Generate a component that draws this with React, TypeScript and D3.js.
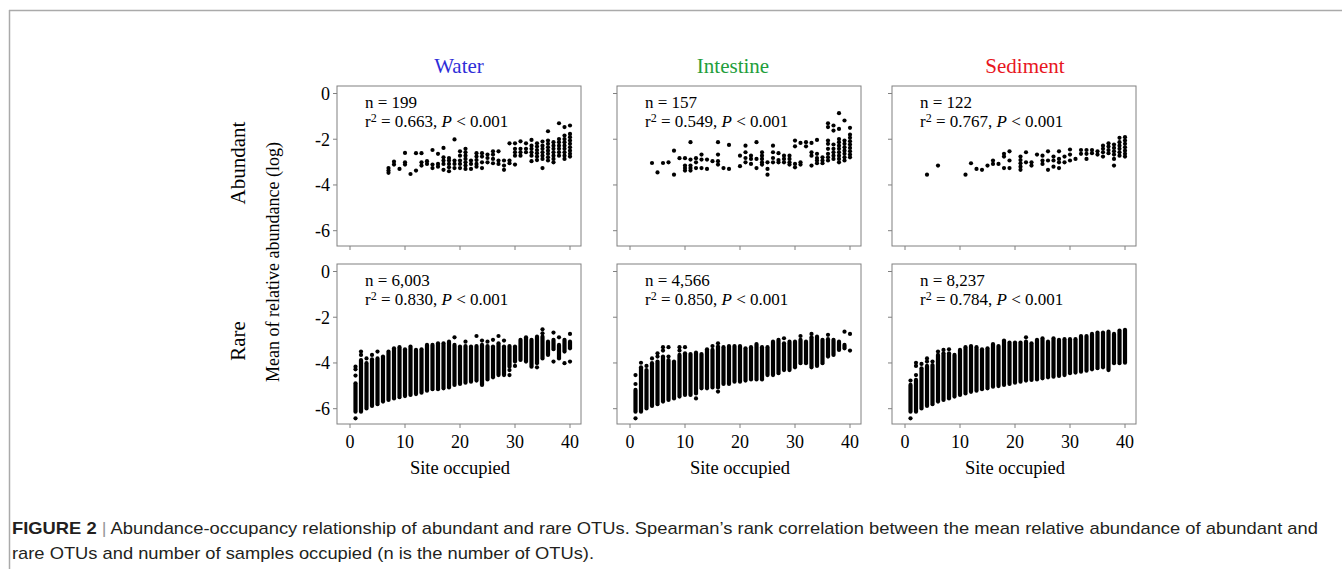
import * as d3 from 'd3'

const habitats = ['Water', 'Intestine', 'Sediment']
const habitatColors = ['#2e2ed8', '#1f9e3c', '#e8161e']
const groups = ['Abundant', 'Rare']
const xTicks = [0, 10, 20, 30, 40]
const yTicks = [0, -2, -4, -6]

const abundantN = ['199', '157', '122']
const abundantR2 = ['0.663', '0.549', '0.767']
const rareN = ['6,003', '4,566', '8,237']
const rareR2 = ['0.830', '0.850', '0.784']

// abundant OTUs: [sites occupied, mean relative abundance (log) of each OTU]
const waterAbundant: [number, number[]][] = [
  [7, [-3.26, -3.37, -3.47]],
  [8, [-2.98, -3.11]],
  [9, [-3.3]],
  [10, [-2.6, -3.01, -3.11]],
  [11, [-3.52]],
  [12, [-2.61, -3.37]],
  [13, [-2.61, -3.01, -3.15]],
  [14, [-2.96, -3.08]],
  [15, [-2.47, -3.11, -3.26]],
  [16, [-2.64, -3.08, -3.2]],
  [17, [-2.38, -2.79, -2.93, -3.08, -3.34]],
  [18, [-2.82, -2.93, -3.08, -3.23, -3.4]],
  [19, [-2.01, -2.93, -3.08, -3.26]],
  [20, [-2.53, -2.72, -2.93, -3.08, -3.26]],
  [21, [-2.42, -2.57, -2.72, -2.86, -3.01, -3.15, -3.3]],
  [22, [-2.93, -3.08, -3.3]],
  [23, [-2.61, -2.76, -2.91, -3.08, -3.2]],
  [24, [-2.61, -2.76, -3.01, -3.26]],
  [25, [-2.67, -2.82, -3.01]],
  [26, [-2.53, -2.67, -2.86, -3.05]],
  [27, [-2.53, -2.93, -3.08]],
  [28, [-2.93, -3.15, -3.34]],
  [29, [-2.18, -2.93, -3.05]],
  [30, [-2.18, -2.42, -2.57, -2.72, -3.11]],
  [31, [-2.09, -2.42, -2.57, -2.72]],
  [32, [-2.18, -2.42, -2.57]],
  [33, [-2.03, -2.28, -2.42, -2.57, -2.72, -2.96]],
  [34, [-2.18, -2.32, -2.47, -2.61, -2.76, -2.91]],
  [35, [-2.1, -2.28, -2.42, -2.57, -2.72, -2.86, -3.26]],
  [36, [-1.65, -2.06, -2.2, -2.35, -2.5, -2.64, -2.79, -2.93]],
  [37, [-2.13, -2.28, -2.42, -2.57, -2.72, -2.86, -3.01]],
  [38, [-1.3, -1.99, -2.13, -2.28, -2.42, -2.57, -2.72]],
  [39, [-1.47, -1.84, -1.99, -2.13, -2.28, -2.42, -2.57, -2.72, -2.86]],
  [40, [-1.4, -1.77, -1.91, -2.06, -2.2, -2.35, -2.5, -2.64, -2.76]],
]

const intestineAbundant: [number, number[]][] = [
  [4, [-3.04]],
  [5, [-3.45]],
  [6, [-3.04]],
  [7, [-3.01]],
  [8, [-2.5, -3.55]],
  [9, [-2.83]],
  [10, [-2.83, -3.15, -3.26, -3.37]],
  [11, [-2.13, -2.89, -3.15, -3.26, -3.37]],
  [12, [-2.83, -3.01, -3.26]],
  [13, [-2.67, -2.89, -3.26]],
  [14, [-2.89, -3.3]],
  [15, [-2.96]],
  [16, [-2.13, -2.67, -2.96, -3.11]],
  [17, [-3.26]],
  [18, [-2.25, -3.3]],
  [20, [-2.72, -3.18]],
  [21, [-2.28, -2.57, -2.82, -3.01]],
  [22, [-2.72, -2.86, -3.08]],
  [23, [-2.13, -2.86, -3.26]],
  [24, [-2.57, -2.72, -2.86, -3.01, -3.11]],
  [25, [-3.01, -3.3, -3.55]],
  [26, [-2.28, -2.57, -2.82, -3.01]],
  [27, [-2.61, -2.91, -3.01]],
  [28, [-2.72, -2.86, -3.01]],
  [29, [-2.72, -2.86, -3.01, -3.11]],
  [30, [-2.06, -2.31, -3.08, -3.23]],
  [31, [-2.16, -3.01, -3.11]],
  [32, [-2.13, -2.31]],
  [33, [-2.16, -2.57, -2.72, -3.15]],
  [34, [-2.03, -2.64, -2.82, -2.93, -3.05]],
  [35, [-2.79, -2.93, -3.05]],
  [36, [-1.3, -1.47, -2.06, -2.2, -2.42, -2.64, -2.79, -2.93]],
  [37, [-1.4, -1.62, -2.23, -2.42, -2.57, -2.72, -2.86]],
  [38, [-0.86, -1.55, -1.99, -2.13, -2.28, -2.42, -2.57, -2.72, -2.86, -3.01]],
  [39, [-1.18, -2.06, -2.2, -2.35, -2.5, -2.64, -2.79, -2.93]],
  [40, [-1.5, -1.8, -1.94, -2.09, -2.23, -2.38, -2.53, -2.67, -2.79]],
]

const sedimentAbundant: [number, number[]][] = [
  [4, [-3.55]],
  [6, [-3.15]],
  [11, [-3.55]],
  [12, [-3.05]],
  [13, [-3.3]],
  [14, [-3.34]],
  [15, [-3.15]],
  [16, [-2.93, -3.08]],
  [17, [-3.08]],
  [18, [-2.64, -2.76, -3.26]],
  [19, [-2.53, -2.93, -3.26]],
  [21, [-2.76, -2.91, -3.05, -3.2, -3.34]],
  [22, [-2.57, -3.01]],
  [23, [-3.01, -3.15]],
  [24, [-2.67]],
  [25, [-2.72, -2.93, -3.08]],
  [26, [-2.53, -2.93, -3.34]],
  [27, [-2.76, -2.93, -3.2]],
  [28, [-2.53, -2.86, -3.01, -3.26]],
  [29, [-2.76, -3.01]],
  [30, [-2.45, -2.67, -2.93]],
  [31, [-2.86]],
  [32, [-2.47, -2.64]],
  [33, [-2.47, -2.64, -2.86]],
  [34, [-2.47, -2.61]],
  [35, [-2.53, -2.67]],
  [36, [-2.28, -2.42, -2.57, -2.76]],
  [37, [-2.18, -2.32, -2.47, -2.61]],
  [38, [-2.23, -2.38, -2.53, -2.67, -2.86, -3.15]],
  [39, [-1.94, -2.13, -2.28, -2.42, -2.57, -2.72]],
  [40, [-1.91, -2.06, -2.2, -2.35, -2.5, -2.64, -2.76]],
]

// rare OTUs: dense range (top / bottom) of each site 1..40, plus scattered OTUs
const waterRareHi = [
  -4.89, -3.87, -4.01, -3.84, -3.8, -3.72, -3.5, -3.36, -3.31, -3.4, -3.28, -3.43, -3.4, -3.21, -3.21, -3.14, -3.14, -3.07, -3.21, -3.28,
  -3.26, -3.28, -3.26, -3.21, -3.26, -3.28, -3.14, -3.28, -3.26, -3.28, -2.99, -2.88, -2.99, -2.85, -2.85, -3.07, -2.99, -3.21, -2.99, -3.07,
]
const waterRareLo = [
  -6.13, -6.13, -5.99, -5.88, -5.8, -5.69, -5.62, -5.55, -5.5, -5.45, -5.4, -5.36, -5.3, -5.21, -5.15, -5.15, -5.11, -5.07, -4.96, -4.92,
  -4.86, -4.82, -4.77, -4.96, -4.72, -4.63, -4.53, -4.53, -4.16, -3.94, -3.87, -3.94, -4.16, -4.01, -3.8, -3.65, -3.4, -3.8, -3.5, -3.36,
]
const waterRareExtra: [number, number][] = [
  [1, -4.16], [1, -4.28], [1, -4.55], [1, -6.42], [2, -3.5], [2, -3.65], [3, -3.8], [4, -3.65], [5, -3.5],
  [19, -2.88], [21, -3.07], [23, -2.82], [24, -3.02], [25, -3.07], [26, -2.99], [27, -2.82], [28, -3.02],
  [29, -4.31], [29, -4.53], [30, -4.13], [34, -4.19], [35, -2.53], [35, -2.7], [37, -2.67], [37, -3.94],
  [38, -2.88], [39, -4.01], [40, -2.73], [40, -3.94],
]

const intestineRareHi = [
  -5.18, -4.19, -4.31, -4.01, -3.94, -3.72, -3.87, -3.94, -3.65, -3.58, -3.61, -3.55, -3.61, -3.4, -3.43, -3.28, -3.31, -3.26, -3.26, -3.26,
  -3.36, -3.31, -3.17, -3.31, -3.31, -3.07, -2.99, -3.14, -3.07, -3.07, -2.99, -3.07, -2.88, -2.85, -2.99, -2.96, -2.99, -3.07, -3.21, -3.46,
]
const intestineRareLo = [
  -6.13, -6.13, -5.99, -5.88, -5.8, -5.69, -5.62, -5.55, -5.47, -5.4, -5.4, -5.33, -5.11, -5.11, -5.07, -5.07, -4.92, -4.92, -4.82, -4.82,
  -4.77, -4.72, -4.72, -4.72, -4.53, -4.53, -4.45, -4.31, -4.31, -4.19, -4.01, -4.01, -4.19, -4.13, -4.01, -3.72, -3.65, -3.43, -3.36, -3.46,
]
const intestineRareExtra: [number, number][] = [
  [1, -4.53], [1, -4.92], [1, -6.42], [2, -3.99], [3, -4.13], [4, -3.8], [5, -3.58], [5, -3.72], [6, -3.31], [6, -3.46],
  [7, -3.31], [7, -3.72], [9, -3.31], [9, -3.46], [10, -3.31], [12, -5.55], [15, -3.26], [16, -3.14], [16, -5.25],
  [28, -2.92], [31, -2.82], [33, -2.73], [36, -2.77], [39, -2.63], [40, -2.73],
]

const sedimentRareHi = [
  -4.96, -4.74, -4.23, -4.13, -4.09, -3.65, -3.58, -3.58, -3.65, -3.43, -3.31, -3.26, -3.31, -3.4, -3.36, -3.17, -3.26, -3.02, -3.11, -3.11,
  -3.11, -3.07, -3.14, -2.99, -2.92, -3.07, -2.92, -2.99, -2.96, -2.96, -2.96, -2.82, -2.82, -2.73, -2.67, -2.67, -2.63, -2.73, -2.58, -2.55,
]
const sedimentRareLo = [
  -6.13, -6.13, -5.99, -5.88, -5.8, -5.69, -5.62, -5.55, -5.47, -5.4, -5.33, -5.26, -5.21, -5.15, -5.11, -5.04, -5.01, -4.96, -4.92, -4.86,
  -4.82, -4.77, -4.74, -4.72, -4.67, -4.63, -4.6, -4.57, -4.53, -4.45, -4.42, -4.38, -4.34, -4.28, -4.23, -4.19, -4.31, -4.01, -4.01, -3.99,
]
const sedimentRareExtra: [number, number][] = [
  [1, -4.77], [1, -6.42], [2, -3.99], [2, -4.13], [2, -4.53], [3, -4.04], [4, -3.8], [4, -3.94], [5, -3.94],
  [6, -3.5], [7, -3.43], [8, -3.4], [22, -2.88],
]

const abundantData = [waterAbundant, intestineAbundant, sedimentAbundant]
const rareHi = [waterRareHi, intestineRareHi, sedimentRareHi]
const rareLo = [waterRareLo, intestineRareLo, sedimentRareLo]
const rareExtra = [waterRareExtra, intestineRareExtra, sedimentRareExtra]

const W = 1342
const H = 569
const panelLeft = [337, 617, 892]
const titleX = [459, 733, 1025]
const rowTop = [86, 264]
const panelW = 244
const panelH = 160
const serif = "'Liberation Serif', 'Times New Roman', serif"
const sans = "'Liberation Sans', Arial, sans-serif"
const frameColor = '#808080'

type PanelProps = {
  col: number
  row: number
}

function Panel({ col, row }: PanelProps) {
  const left = panelLeft[col]
  const top = rowTop[row]
  const x = d3.scaleLinear().domain([0, 40]).range([left + 13, left + 233])
  const y = d3.scaleLinear().domain([0, -6]).range([top + 7.5, top + 144.7])
  const n = row === 0 ? abundantN[col] : rareN[col]
  const r2 = row === 0 ? abundantR2[col] : rareR2[col]

  return (
    <g>
      {row === 0 &&
        abundantData[col].flatMap(([site, vals]) =>
          vals.map((v, i) => <circle key={site + '-' + i} cx={x(site)} cy={y(v)} r={2.1} fill="#000" />)
        )}
      {row === 1 &&
        rareHi[col].map((hi, i) => (
          <rect
            key={'c' + i}
            x={x(i + 1) - 2.1}
            y={y(hi) - 2.1}
            width={4.2}
            height={y(rareLo[col][i]) - y(hi) + 4.2}
            rx={2.1}
            fill="#000"
          />
        ))}
      {row === 1 &&
        rareExtra[col].map(([site, v], i) => <circle key={'e' + i} cx={x(site)} cy={y(v)} r={2.1} fill="#000" />)}

      <rect x={left} y={top} width={panelW} height={panelH} fill="none" stroke={frameColor} strokeWidth={1} />
      {yTicks.map((t) => (
        <line key={'yt' + t} x1={left - 4} x2={left} y1={y(t)} y2={y(t)} stroke={frameColor} />
      ))}
      {xTicks.map((t) => (
        <line key={'xt' + t} x1={x(t)} x2={x(t)} y1={top + panelH} y2={top + panelH + 4} stroke={frameColor} />
      ))}
      {col === 0 &&
        yTicks.map((t) => (
          <text key={'yl' + t} x={left - 7} y={y(t)} dy="0.35em" textAnchor="end" fontSize={18} fontFamily={serif}>
            {t}
          </text>
        ))}
      {row === 1 &&
        xTicks.map((t) => (
          <text key={'xl' + t} x={x(t)} y={top + panelH + 24} textAnchor="middle" fontSize={18} fontFamily={serif}>
            {t}
          </text>
        ))}
      {row === 1 && (
        <text x={(x(0) + x(40)) / 2} y={474} textAnchor="middle" fontSize={18.5} fontFamily={serif}>
          Site occupied
        </text>
      )}

      <text x={left + 28} y={top + 22} fontSize={17} fontFamily={serif}>
        n = {n}
      </text>
      <text x={left + 28} y={top + 41} fontSize={17} fontFamily={serif}>
        r
        <tspan fontSize={12} dy={-5}>
          2
        </tspan>
        <tspan dy={5}> = {r2}, </tspan>
        <tspan fontStyle="italic">P</tspan>
        <tspan> &lt; 0.001</tspan>
      </text>
    </g>
  )
}

export default function App() {
  return (
    <svg width={W} height={H} style={{ position: 'absolute', left: 0, top: 0, background: '#fff' }}>
      <line x1={9} x2={W} y1={10.5} y2={10.5} stroke="#aaa" strokeWidth={1.5} />
      <line x1={9.5} x2={9.5} y1={10} y2={H} stroke="#aaa" strokeWidth={1.5} />

      {habitats.map((h, i) => (
        <text key={h} x={titleX[i]} y={73} textAnchor="middle" fontSize={21} fontFamily={serif} fill={habitatColors[i]}>
          {h}
        </text>
      ))}

      {groups.map((g, r) => (
        <text
          key={g}
          transform={`translate(245,${rowTop[r] + panelH / 2 - 3}) rotate(-90)`}
          textAnchor="middle"
          fontSize={21}
          fontFamily={serif}
        >
          {g}
        </text>
      ))}
      <text transform="translate(279,262) rotate(-90)" textAnchor="middle" fontSize={18} fontFamily={serif}>
        Mean of relative abundance (log)
      </text>

      {groups.map((g, r) => habitats.map((h, c) => <Panel key={g + h} col={c} row={r} />))}

      <text x={12} y={534} fontSize={17} fontFamily={sans} fill="#231f20" textLength={1306} lengthAdjust="spacingAndGlyphs">
        <tspan fontWeight="bold">FIGURE 2</tspan>
        <tspan fill="#999"> | </tspan>
        <tspan>
          Abundance-occupancy relationship of abundant and rare OTUs. Spearman’s rank correlation between the mean
          relative abundance of abundant and
        </tspan>
      </text>
      <text x={12} y={559} fontSize={17} fontFamily={sans} fill="#231f20" textLength={582} lengthAdjust="spacingAndGlyphs">
        rare OTUs and number of samples occupied (n is the number of OTUs).
      </text>
    </svg>
  )
}
